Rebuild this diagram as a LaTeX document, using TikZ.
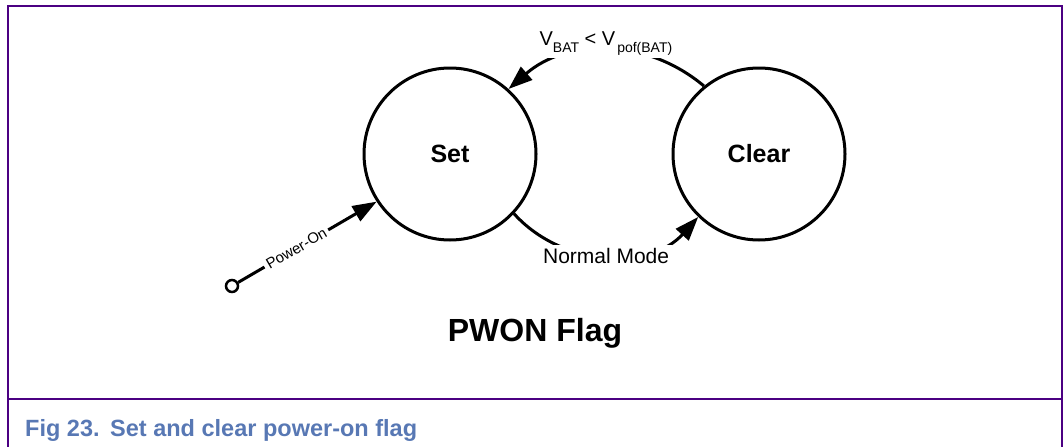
\documentclass[tikz,border=0pt]{standalone}
\usepackage{fontspec}
\setmainfont{Liberation Sans}
\usetikzlibrary{arrows.meta}
\definecolor{framecol}{RGB}{75,0,130}
\definecolor{capcol}{RGB}{88,120,180}
\newcommand{\mysub}[1]{\raisebox{-7pt}{\fontsize{14}{16}\selectfont #1}}
\begin{document}
\begin{tikzpicture}[x=1pt,y=1pt,
  state/.style={circle, draw, line width=3pt, minimum size=172pt, inner sep=0pt, font=\fontsize{25}{30}\selectfont\bfseries},
  conn/.style={line width=3pt, -{Triangle[length=24pt,width=17pt]}},
  lbl/.style={fill=white, inner sep=3pt},
  framestyle/.style={draw=framecol, line width=2pt}
]
\useasboundingbox (0,0) rectangle (1063,-447);
\draw[framestyle] (8,-447) -- (8,-6) -- (1062,-6) -- (1062,-447);
\draw[framestyle] (8,-399) -- (1062,-399);

\node[state] (set) at (450,-154) {Set};
\node[state] (clear) at (759,-154) {Clear};
\node[circle, draw, line width=2.5pt, minimum size=12pt, inner sep=0pt] (pin) at (232,-286) {};

\draw[conn] (clear.129) to[out=140, in=41]
  node[lbl, yshift=7pt, font=\fontsize{20}{24}\selectfont]
  {V\mysub{BAT} {<} V\hspace{2pt}\mysub{pof(BAT)}} (set.48);
\draw[conn] (set.317) to[out=-48, in=228]
  node[lbl, font=\fontsize{21}{25}\selectfont] {Normal Mode} (clear.226);
\draw[conn] (pin) -- node[lbl, sloped, pos=0.42, font=\fontsize{15}{18}\selectfont] {Power-On} (set.213);

\node[anchor=base, font=\fontsize{32}{38}\selectfont\bfseries] (title) at (535,-341) {PWON Flag};
\node[anchor=base west, inner sep=0pt, text=capcol, font=\fontsize{23.5}{28}\selectfont\bfseries] (cap) at (25,-436) {Fig 23.\hspace{10.6pt}Set and clear power-on flag};
\end{tikzpicture}
\end{document}
